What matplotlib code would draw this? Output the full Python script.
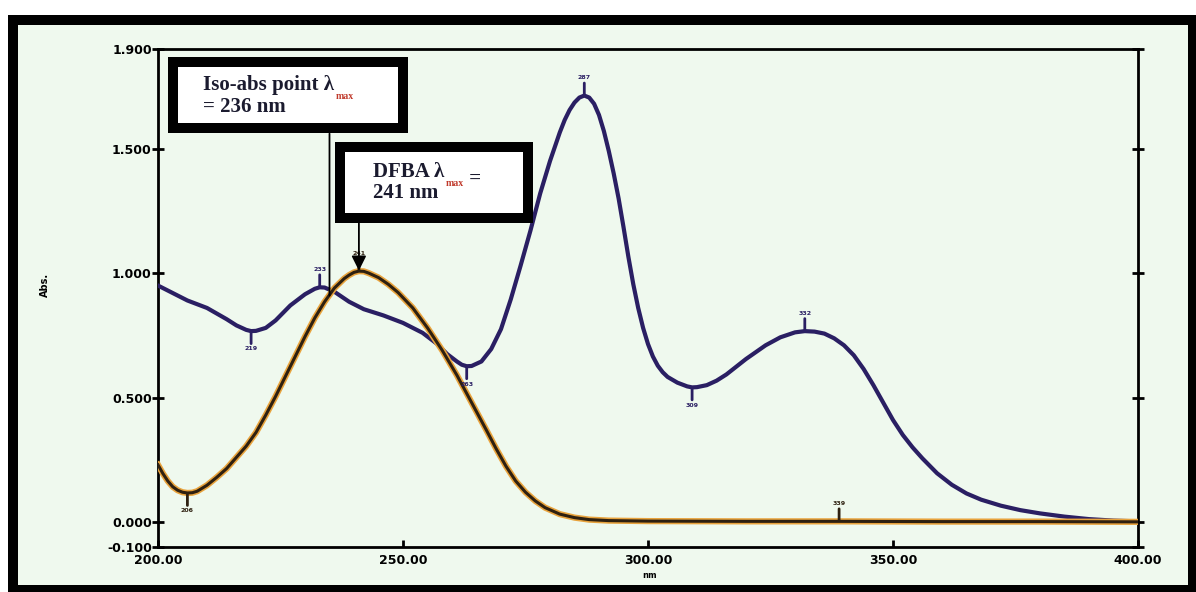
import matplotlib
matplotlib.use("Agg")
import matplotlib.pyplot as plt
from matplotlib.patches import Rectangle

# spectrum of the mixture (navy trace)
mix_wl = [200, 203, 206, 210, 214, 216, 218, 219, 220, 222, 224, 227, 230, 232, 233, 234,
          236, 239, 242, 246, 250, 254, 257, 259, 261, 262, 263, 264, 266, 268, 270, 272,
          274, 276, 278, 280, 282, 283, 284, 285, 286, 287, 288, 289, 290, 291, 292, 293,
          294, 295, 296, 297, 298, 299, 300, 301, 302, 303, 304, 306, 308, 309, 310, 312,
          314, 316, 320, 324, 327, 330, 332, 334, 336, 338, 340, 342, 344, 346, 348, 350,
          352, 354, 356, 359, 362, 365, 368, 372, 376, 380, 385, 390, 395, 400]
mix_abs = [0.95, 0.92, 0.89, 0.86, 0.815, 0.79, 0.772, 0.767, 0.768, 0.78, 0.81, 0.87, 0.915,
           0.937, 0.943, 0.942, 0.925, 0.885, 0.855, 0.83, 0.80, 0.76, 0.715, 0.675, 0.645,
           0.632, 0.626, 0.627, 0.645, 0.695, 0.775, 0.895, 1.03, 1.17, 1.32, 1.45, 1.565,
           1.615, 1.655, 1.685, 1.705, 1.713, 1.705, 1.68, 1.635, 1.57, 1.49, 1.40, 1.30,
           1.185, 1.065, 0.955, 0.86, 0.78, 0.715, 0.665, 0.628, 0.602, 0.583, 0.56, 0.545,
           0.541, 0.542, 0.55, 0.568, 0.593, 0.655, 0.71, 0.742, 0.762, 0.767, 0.765, 0.757,
           0.738, 0.71, 0.67, 0.615, 0.55, 0.48, 0.41, 0.35, 0.30, 0.256, 0.196, 0.15,
           0.115, 0.09, 0.066, 0.048, 0.035, 0.022, 0.012, 0.006, 0.003]

# DFBA spectrum (brown/orange trace)
dfba_wl = [200, 201, 202, 203, 204, 205, 206, 207, 208, 210, 212, 214, 216, 218, 220, 222,
           224, 226, 228, 230, 232, 234, 236, 238, 239, 240, 241, 242, 243, 245, 247, 249,
           252, 255, 258, 261, 264, 267, 269, 271, 273, 275, 277, 279, 282, 285, 288, 292,
           300, 320, 339, 360, 380, 400]
dfba_abs = [0.23, 0.195, 0.165, 0.142, 0.128, 0.12, 0.117, 0.118, 0.124, 0.148, 0.18, 0.215,
            0.26, 0.305, 0.36, 0.43, 0.505, 0.585, 0.665, 0.745, 0.82, 0.885, 0.94, 0.978,
            0.992, 1.003, 1.008, 1.007, 1.0, 0.982, 0.955, 0.922, 0.86, 0.78, 0.69, 0.59,
            0.48, 0.37, 0.295, 0.225, 0.165, 0.12, 0.085, 0.058, 0.032, 0.018, 0.01, 0.006,
            0.004, 0.003, 0.003, 0.002, 0.002, 0.001]

# peak pick marks: (wavelength, +1 above / -1 below)
mix_peaks = [(219, -1), (233, 1), (263, -1), (287, 1), (309, -1), (332, 1)]
dfba_peaks = [(206, -1), (241, 1), (339, 1)]

x_ticks = [200, 250, 300, 350, 400]
x_labels = ["200.00", "250.00", "300.00", "350.00", "400.00"]
y_ticks = [-0.1, 0.0, 0.5, 1.0, 1.5, 1.9]
y_labels = ["-0.100", "0.000", "0.500", "1.000", "1.500", "1.900"]

iso_line = (235, 0.91)
dfba_max = (241, 1.01)

W, H = 1196, 592
bg = "#eff9ee"
navy = "#2a1f63"
brown = "#2e2010"
amber = "#e8a33d"


def fx(px):
    return px / W


def fy(py):
    return 1 - py / H


fig = plt.figure(figsize=(W / 100, H / 100), dpi=100, facecolor="white")
fig.add_artist(Rectangle((fx(13), fy(590)), fx(1193) - fx(13), fy(20) - fy(590),
                         transform=fig.transFigure, facecolor=bg, edgecolor="black",
                         lw=7.2, zorder=0))

ax = fig.add_axes([fx(158), fy(547), fx(1138) - fx(158), fy(49) - fy(547)])
ax.set_facecolor(bg)
ax.set_xlim(200, 400)
ax.set_ylim(-0.1, 1.9)

ax.plot(mix_wl, mix_abs, color=navy, lw=3, solid_joinstyle="round", zorder=3)
ax.plot(dfba_wl, dfba_abs, color=amber, lw=4.5, solid_joinstyle="round", zorder=3)
ax.plot(dfba_wl, dfba_abs, color=brown, lw=2.2, solid_joinstyle="round", zorder=4)


def mark_peaks(peaks, wl, ab, col):
    for p, d in peaks:
        y = ab[wl.index(p)]
        ax.annotate(str(p), xy=(p, y), xytext=(0, 11 * d), textcoords="offset points",
                    ha="center", va="bottom" if d > 0 else "top", fontsize=4.5,
                    fontweight="bold", color=col, zorder=5,
                    arrowprops=dict(arrowstyle="-", lw=2, color=col, shrinkA=0, shrinkB=1))


mark_peaks(mix_peaks, mix_wl, mix_abs, navy)
mark_peaks(dfba_peaks, dfba_wl, dfba_abs, brown)

for s in ax.spines.values():
    s.set_linewidth(2)
ax.set_xticks(x_ticks)
ax.set_xticklabels(x_labels)
ax.set_yticks(y_ticks)
ax.set_yticklabels(y_labels)
ax.tick_params(axis="x", direction="in", length=5, width=2, pad=5, labelsize=9)
ax.tick_params(axis="y", direction="inout", length=8, width=2, pad=0.5, labelsize=9,
               right=True)
for lab in ax.get_xticklabels() + ax.get_yticklabels():
    lab.set_fontweight("bold")

fig.text(fx(650), fy(575), "nm", ha="center", va="center", fontsize=6, fontweight="bold")
fig.text(fx(45), fy(285), "Abs.", ha="center", va="center", rotation=90,
         fontsize=7, fontweight="bold")

# callout boxes
for x0, y0, x1, y1 in [(173, 62, 403, 128), (340, 147, 528, 218)]:
    ax.add_patch(Rectangle((fx(x0), fy(y1)), fx(x1) - fx(x0), fy(y0) - fy(y1),
                           transform=fig.transFigure, facecolor="white", edgecolor="black",
                           lw=7.2, zorder=6, clip_on=False))

tfont = dict(family="Liberation Serif", fontweight="bold", fontsize=15, color="#1b1b2f",
             transform=fig.transFigure, va="baseline", zorder=7)
t1 = ax.text(fx(203), fy(90), "Iso-abs point λ", **tfont)
ax.annotate("max", xy=(1, 0), xycoords=t1, xytext=(1, -3), textcoords="offset points",
            fontsize=7, color="#c0392b", fontweight="bold", family="Liberation Serif",
            va="baseline", zorder=7)
ax.text(fx(203), fy(112), "= 236 nm", **tfont)
t2 = ax.text(fx(373), fy(177), "DFBA λ", **tfont)
t3 = ax.annotate("max", xy=(1, 0), xycoords=t2, xytext=(1, -3), textcoords="offset points",
                 fontsize=7, color="#c0392b", fontweight="bold", family="Liberation Serif",
                 va="baseline", zorder=7)
ax.annotate(" =", xy=(1, 0), xycoords=t3, xytext=(0, 3), textcoords="offset points",
            family="Liberation Serif", fontweight="bold", fontsize=15, color="#1b1b2f",
            va="baseline", zorder=7)
ax.text(fx(373), fy(198), "241 nm", **tfont)

# leader lines from boxes
ax.annotate("", xy=iso_line, xytext=(iso_line[0], 1.56),
            arrowprops=dict(arrowstyle="-", lw=1.3, color="black", shrinkA=0, shrinkB=0),
            zorder=5)
ax.annotate("", xy=dfba_max, xytext=(dfba_max[0], 1.2),
            arrowprops=dict(arrowstyle="-|>", mutation_scale=22, lw=1.3, color="black",
                            shrinkA=0, shrinkB=0), zorder=5)

fig.savefig("out.png", dpi=100, facecolor=fig.get_facecolor())
